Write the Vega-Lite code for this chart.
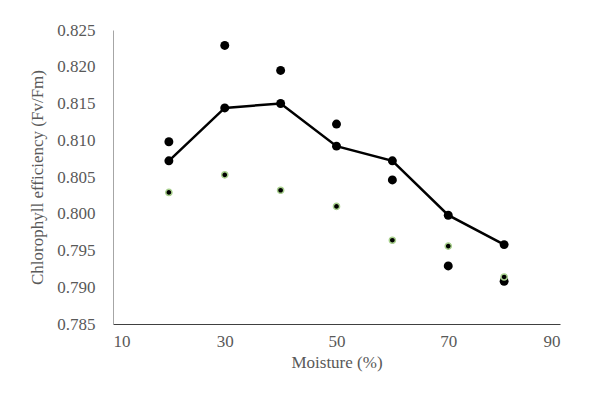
{
  "$schema": "https://vega.github.io/schema/vega-lite/v6.json",
  "width": 447,
  "height": 294,
  "autosize": {"type": "none"},
  "padding": {"left": 113, "top": 30, "right": 54, "bottom": 70},
  "background": "white",
  "config": {
    "view": {"stroke": null}
  },
  "data": {
    "values": [
      {"moisture": 20, "value": 0.8072, "series": "mean"},
      {"moisture": 30, "value": 0.8144, "series": "mean"},
      {"moisture": 40, "value": 0.8150, "series": "mean"},
      {"moisture": 50, "value": 0.8092, "series": "mean"},
      {"moisture": 60, "value": 0.8072, "series": "mean"},
      {"moisture": 70, "value": 0.7998, "series": "mean"},
      {"moisture": 80, "value": 0.7958, "series": "mean"},
      {"moisture": 20, "value": 0.8098, "series": "high"},
      {"moisture": 30, "value": 0.8229, "series": "high"},
      {"moisture": 40, "value": 0.8195, "series": "high"},
      {"moisture": 50, "value": 0.8122, "series": "high"},
      {"moisture": 60, "value": 0.8046, "series": "high"},
      {"moisture": 70, "value": 0.7929, "series": "high"},
      {"moisture": 80, "value": 0.7908, "series": "high"},
      {"moisture": 20, "value": 0.8029, "series": "low"},
      {"moisture": 30, "value": 0.8053, "series": "low"},
      {"moisture": 40, "value": 0.8032, "series": "low"},
      {"moisture": 50, "value": 0.8010, "series": "low"},
      {"moisture": 60, "value": 0.7964, "series": "low"},
      {"moisture": 70, "value": 0.7956, "series": "low"},
      {"moisture": 80, "value": 0.7914, "series": "low"}
    ]
  },
  "encoding": {
    "x": {"field": "moisture", "type": "quantitative", "scale": {"domain": [10, 90], "nice": false, "zero": false},
      "axis": {"values": [10, 30, 50, 70, 90], "title": "Moisture (%)", "grid": false, "ticks": false, "labelOverlap": false, "domainColor": "#404040", "labelPadding": 9, "titlePadding": 5,
        "labelFont": "Liberation Serif", "titleFont": "Liberation Serif", "labelFontSize": 17, "titleFontSize": 17, "labelColor": "#595959", "titleColor": "#595959", "titleFontWeight": "normal"}},
    "y": {"field": "value", "type": "quantitative", "scale": {"domain": [0.785, 0.825], "nice": false, "zero": false},
      "axis": {"values": [0.785, 0.79, 0.795, 0.8, 0.805, 0.81, 0.815, 0.82, 0.825], "format": ".3f", "title": "Chlorophyll efficiency (Fv/Fm)", "grid": false, "ticks": false, "labelOverlap": false, "domainColor": "#a6a6a6", "labelPadding": 18, "titlePadding": 10,
        "labelFont": "Liberation Serif", "titleFont": "Liberation Serif", "labelFontSize": 17, "titleFontSize": 17, "labelColor": "#595959", "titleColor": "#595959", "titleFontWeight": "normal"}}
  },
  "layer": [
    {"transform": [{"filter": "datum.series === 'mean'"}], "mark": {"type": "line", "color": "black", "strokeWidth": 2.5}},
    {"transform": [{"filter": "datum.series === 'mean'"}], "mark": {"type": "circle", "color": "black", "size": 80, "opacity": 1}},
    {"transform": [{"filter": "datum.series === 'high'"}], "mark": {"type": "circle", "color": "black", "size": 80, "opacity": 1}},
    {"transform": [{"filter": "datum.series === 'low'"}], "mark": {"type": "circle", "fill": "black", "stroke": "#a9d18e", "strokeWidth": 1.5, "size": 38, "opacity": 1}}
  ]
}
